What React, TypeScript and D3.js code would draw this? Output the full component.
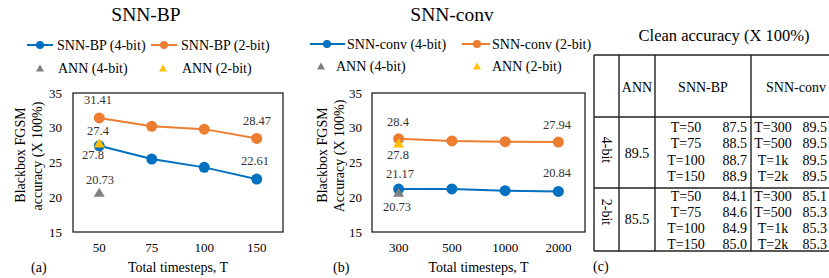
import React from "react";
import * as d3 from "d3";

// ---------- data ----------
const bpSteps = ["50", "75", "100", "150"];
const bp4bit = [27.4, 25.5, 24.3, 22.61];
const bp2bit = [31.41, 30.2, 29.8, 28.47];
const convSteps = ["300", "500", "1000", "2000"];
const conv4bit = [21.17, 21.2, 20.95, 20.84];
const conv2bit = [28.4, 28.1, 28.0, 27.94];
const ann4bit = 20.73;
const ann2bit = 27.8;
const yTicks = [15, 20, 25, 30, 35];

const tableBpT = ["T=50", "T=75", "T=100", "T=150"];
const tableConvT = ["T=300", "T=500", "T=1k", "T=2k"];
const bp4Clean = ["87.5", "88.5", "88.7", "88.9"];
const conv4Clean = ["89.5", "89.5", "89.5", "89.5"];
const bp2Clean = ["84.1", "84.6", "84.9", "85.0"];
const conv2Clean = ["85.1", "85.3", "85.3", "85.3"];
const annClean = ["89.5", "85.5"];
const bitLabels = ["4-bit", "2-bit"];

const BLUE = "#0070C0";
const ORANGE = "#ED7D31";
const GREY = "#7F7F7F";
const YELLOW = "#FFC000";
const FONT = "'Liberation Serif', 'Times New Roman', serif";

const tri = (cx: number, cy: number, w: number, h: number) =>
  `M${cx},${cy - h / 2}L${cx + w / 2},${cy + h / 2}L${cx - w / 2},${cy + h / 2}Z`;

interface PanelProps {
  left: number;
  right: number;
  title: string;
  titleX: number;
  steps: string[];
  s4: number[];
  s2: number[];
  name: string;
  yTitle2: string;
  yTitleX: [number, number];
  tickX: number;
  legend: {
    y1: number; y2: number;
    b: [number, number, number, number];
    o: [number, number, number, number];
    g: [number, number];
    yl: [number, number];
  };
  labels: { text: string; x: number; y: number }[];
  tag: string;
  tagX: number;
}

function Panel(p: PanelProps) {
  const y = d3.scaleLinear().domain([15, 35]).range([232, 93]);
  const x = d3.scaleBand().domain(p.steps).range([p.left, p.right]);
  const cx = (d: string) => (x(d) as number) + x.bandwidth() / 2;
  const line = d3
    .line<number>()
    .x((_, i) => cx(p.steps[i]))
    .y((v) => y(v));
  const L = p.legend;
  return (
    <g style={{ fontFamily: FONT }} fill="#000">
      <text x={p.titleX} y={14} fontSize={19.5} textAnchor="middle" dominantBaseline="central">
        {p.title}
      </text>
      {/* legend */}
      <line x1={L.b[0]} x2={L.b[1]} y1={L.y1} y2={L.y1} stroke={BLUE} strokeWidth={2} />
      <circle cx={L.b[2]} cy={L.y1} r={4} fill={BLUE} />
      <text x={L.b[3]} y={L.y1} fontSize={14} dominantBaseline="central">
        {p.name} (4-bit)
      </text>
      <line x1={L.o[0]} x2={L.o[1]} y1={L.y1} y2={L.y1} stroke={ORANGE} strokeWidth={2} />
      <circle cx={L.o[2]} cy={L.y1} r={4} fill={ORANGE} />
      <text x={L.o[3]} y={L.y1} fontSize={14} dominantBaseline="central">
        {p.name} (2-bit)
      </text>
      <path d={tri(L.g[0], L.y2, 8, 7)} fill={GREY} />
      <text x={L.g[1]} y={L.y2} fontSize={14} dominantBaseline="central">
        ANN (4-bit)
      </text>
      <path d={tri(L.yl[0], L.y2, 8, 7)} fill={YELLOW} />
      <text x={L.yl[1]} y={L.y2} fontSize={14} dominantBaseline="central">
        ANN (2-bit)
      </text>
      {/* plot box */}
      <rect x={p.left} y={y(35)} width={p.right - p.left} height={y(15) - y(35)} fill="none" stroke="#222" strokeWidth={1.3} />
      {yTicks.map((t) => (
        <text key={t} x={p.tickX} y={y(t)} fontSize={13} textAnchor="end" dominantBaseline="central">
          {t}
        </text>
      ))}
      {p.steps.map((s) => (
        <text key={s} x={cx(s)} y={247} fontSize={13} textAnchor="middle" dominantBaseline="central">
          {s}
        </text>
      ))}
      <text x={(p.left + p.right) / 2} y={267} fontSize={14} textAnchor="middle" dominantBaseline="central">
        Total timesteps, T
      </text>
      <text x={p.tagX} y={267} fontSize={14} dominantBaseline="central">
        {p.tag}
      </text>
      <text transform={`translate(${p.yTitleX[0]},155) rotate(-90)`} fontSize={14} textAnchor="middle" dominantBaseline="central">
        Blackbox FGSM
      </text>
      <text transform={`translate(${p.yTitleX[1]},156) rotate(-90)`} fontSize={14} textAnchor="middle" dominantBaseline="central">
        {p.yTitle2}
      </text>
      {/* series */}
      <path d={line(p.s2) as string} fill="none" stroke={ORANGE} strokeWidth={2} />
      <path d={line(p.s4) as string} fill="none" stroke={BLUE} strokeWidth={2} />
      {p.s2.map((v, i) => (
        <circle key={"o" + i} cx={cx(p.steps[i])} cy={y(v)} r={5.5} fill={ORANGE} />
      ))}
      {p.s4.map((v, i) => (
        <circle key={"b" + i} cx={cx(p.steps[i])} cy={y(v)} r={5.5} fill={BLUE} />
      ))}
      <path d={tri(cx(p.steps[0]), y(ann4bit), 11, 9)} fill={GREY} />
      <path d={tri(cx(p.steps[0]), y(ann2bit), 11, 9)} fill={YELLOW} />
      {p.labels.map((l, i) => (
        <text key={"l" + i} x={l.x} y={l.y} fontSize={12.5} textAnchor="middle" dominantBaseline="central" fill="#333">
          {l.text}
        </text>
      ))}
    </g>
  );
}

function Table() {
  const x0 = 594, c1 = 619, c2 = 655, c3 = 751, xr = 829;
  const yTop = 55, yHead = 117, ySep = 188, yBot = 251;
  const rows4 = [127, 143.5, 160, 176.5];
  const rows2 = [196, 212, 228, 244];
  const sw = 1.4;
  const col = "#222";
  const bpTX = 686, bpVX = 747, cvTX = 773, cvVX = 827;
  const block = (rows: number[], bp: string[], cv: string[], key: string) =>
    rows.map((ry, i) => (
      <g key={key + i}>
        <text x={bpTX} y={ry} textAnchor="middle" dominantBaseline="central">{tableBpT[i]}</text>
        <text x={bpVX} y={ry} textAnchor="end" dominantBaseline="central">{bp[i]}</text>
        <text x={cvTX} y={ry} textAnchor="middle" dominantBaseline="central">{tableConvT[i]}</text>
        <text x={cvVX} y={ry} textAnchor="end" dominantBaseline="central">{cv[i]}</text>
      </g>
    ));
  return (
    <g style={{ fontFamily: FONT }} fontSize={14} fill="#000">
      <text x={724} y={35} fontSize={16.5} textAnchor="middle" dominantBaseline="central">
        Clean accuracy (X 100%)
      </text>
      {[yTop, yHead, ySep, yBot].map((yy) => (
        <line key={yy} x1={x0} x2={xr} y1={yy} y2={yy} stroke={col} strokeWidth={sw} />
      ))}
      {[x0, c1, c2, c3].map((xx) => (
        <line key={xx} x1={xx} x2={xx} y1={yTop} y2={yBot} stroke={col} strokeWidth={sw} />
      ))}
      <text x={(c1 + c2) / 2} y={87} textAnchor="middle" dominantBaseline="central">ANN</text>
      <text x={(c2 + c3) / 2} y={87} textAnchor="middle" dominantBaseline="central">SNN-BP</text>
      <text x={796} y={87} textAnchor="middle" dominantBaseline="central">SNN-conv</text>
      <text transform={`translate(606,150) rotate(90)`} textAnchor="middle" dominantBaseline="central">{bitLabels[0]}</text>
      <text transform={`translate(606,212) rotate(90)`} textAnchor="middle" dominantBaseline="central">{bitLabels[1]}</text>
      <text x={(c1 + c2) / 2} y={153} textAnchor="middle" dominantBaseline="central">{annClean[0]}</text>
      <text x={(c1 + c2) / 2} y={219} textAnchor="middle" dominantBaseline="central">{annClean[1]}</text>
      {block(rows4, bp4Clean, conv4Clean, "r4")}
      {block(rows2, bp2Clean, conv2Clean, "r2")}
      <text x={593} y={266} dominantBaseline="central">(c)</text>
    </g>
  );
}

export default function App() {
  return (
    <svg width={829} height={278} style={{ position: "absolute", left: 0, top: 0, background: "#fff" }}>
      <rect width={829} height={278} fill="#fff" />
      <Panel
        left={73}
        right={283}
        title="SNN-BP"
        titleX={146}
        steps={bpSteps}
        s4={bp4bit}
        s2={bp2bit}
        name="SNN-BP"
        yTitle2="accuracy (X 100%)"
        yTitleX={[20, 37]}
        tickX={62}
        legend={{ y1: 45, y2: 68, b: [27, 53, 40, 57], o: [151, 177, 164, 181], g: [40, 58], yl: [163, 182] }}
        labels={[
          { text: "31.41", x: 98, y: 100 },
          { text: "27.4", x: 98, y: 131 },
          { text: "27.8", x: 93, y: 155 },
          { text: "20.73", x: 100, y: 180 },
          { text: "22.61", x: 255, y: 161 },
          { text: "28.47", x: 257, y: 121 },
        ]}
        tag="(a)"
        tagX={31}
      />
      <Panel
        left={372}
        right={585}
        title="SNN-conv"
        titleX={452}
        steps={convSteps}
        s4={conv4bit}
        s2={conv2bit}
        name="SNN-conv"
        yTitle2="Accuracy (X 100%)"
        yTitleX={[322, 339]}
        tickX={362}
        legend={{ y1: 44, y2: 66, b: [310, 345, 327, 347], o: [462, 490, 477, 492], g: [321, 336], yl: [477, 492] }}
        labels={[
          { text: "28.4", x: 398, y: 122 },
          { text: "27.8", x: 398, y: 155 },
          { text: "21.17", x: 400, y: 174 },
          { text: "20.73", x: 397, y: 207 },
          { text: "20.84", x: 557, y: 173 },
          { text: "27.94", x: 557, y: 125 },
        ]}
        tag="(b)"
        tagX={333}
      />
      <Table />
    </svg>
  );
}
